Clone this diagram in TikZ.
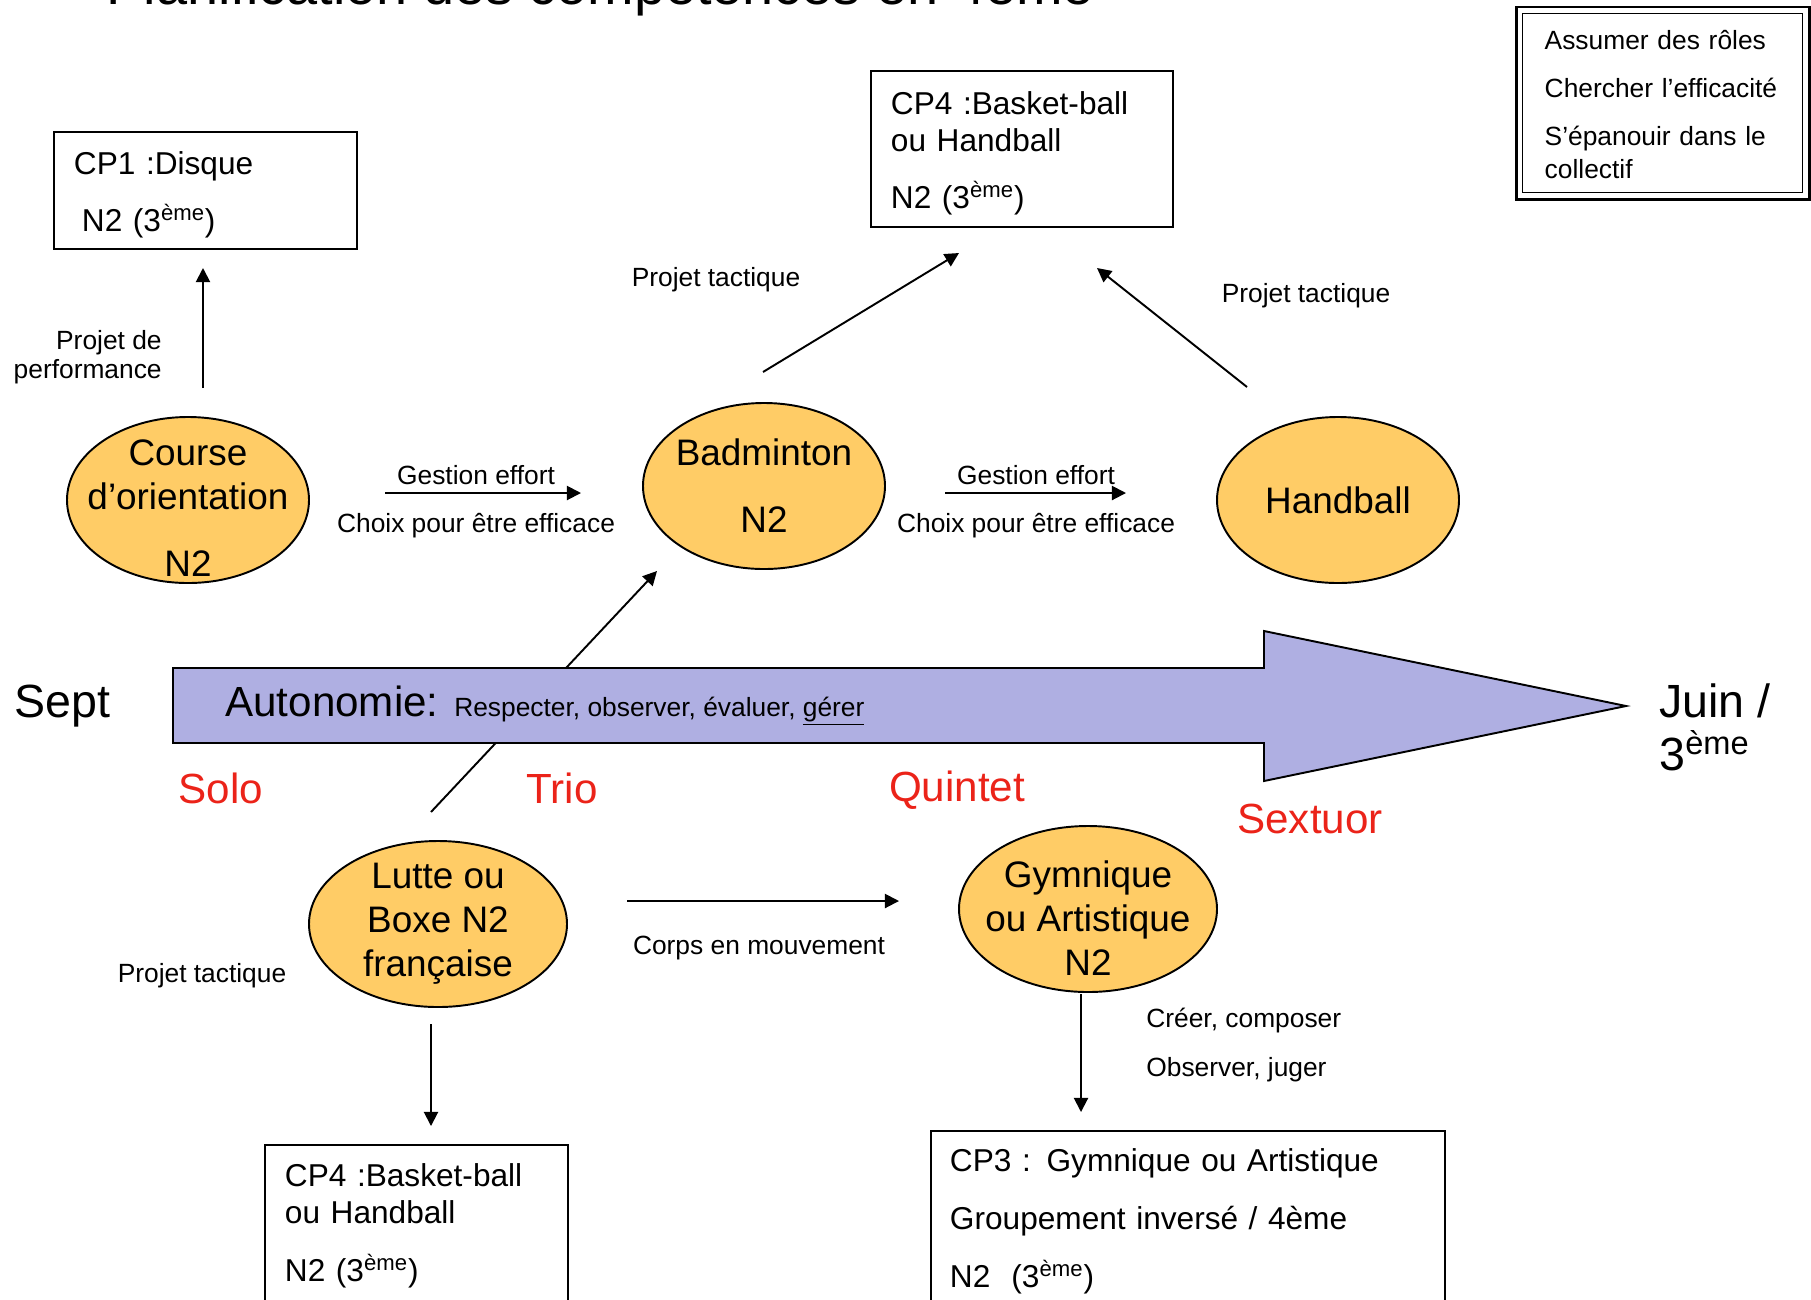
\documentclass[tikz,border=0pt]{standalone}
\usepackage{fontspec}
\setmainfont{Liberation Sans}
\usetikzlibrary{shapes.geometric, arrows.meta}

\newlength{\pix}
\setlength{\pix}{0.02cm}

\definecolor{sportfill}{RGB}{255,204,102}
\definecolor{arrowfill}{RGB}{175,175,226}
\definecolor{groupred}{RGB}{235,35,25}

\tikzset{
	sport/.style={ellipse, draw, line width=1.1pt, fill=sportfill, align=center,
		minimum width=242\pix, minimum height=166\pix, inner xsep=-30\pix, inner ysep=-20\pix,
		font=\fontsize{21}{25}\selectfont},
	cpbox/.style={draw, line width=1.1pt, anchor=north west, align=left, inner ysep=0pt,
		font=\fontsize{18}{21}\selectfont},
	note/.style={font=\fontsize{15}{18}\selectfont, inner sep=0pt},
	group/.style={text=groupred, font=\fontsize{24}{28}\selectfont, inner sep=0pt},
	arr/.style={line width=1.1pt, -{Triangle[length=8pt, width=8pt]}}
}

\begin{document}
\begin{tikzpicture}[x=0.02cm, y=-0.02cm]
	\useasboundingbox (0,0) rectangle (1811,1299);
	
	%title, cut by the page
	\node[anchor=base west, inner sep=0pt, font=\fontsize{31.8}{36}\selectfont] (title) at (106,4) {Planification des compétences en 4ème};
	
	%activities
	\node[sport, text height=152\pix, text depth=0pt] (course) at (188,500) {Course\\d’orientation\\[23\pix]N2};
	\node[sport] (bad) at (764,486) {Badminton\\[23\pix]N2};
	\node[sport] (hand) at (1338,500) {Handball};
	\node[sport, minimum width=258\pix] (lutte) at (438,924) {Lutte ou\\Boxe N2\\française};
	\node[sport, minimum width=258\pix, text height=133\pix, text depth=0pt] (gym) at (1088,909) {Gymnique\\ou Artistique\\N2};
	
	%competences
	\node[cpbox, inner xsep=20\pix, text width=263\pix, text height=43\pix, text depth=74\pix] (cp1) at (53,131) {CP1 :Disque\\[20\pix]\hspace*{8\pix}N2 (3\textsuperscript{ème})};
	\node[cpbox, inner xsep=20\pix, text width=262\pix, text height=44\pix, text depth=112\pix] (cp4a) at (870,70) {CP4 :Basket-ball\\ou Handball\\[20\pix]N2 (3\textsuperscript{ème})};
	\node[cpbox, inner xsep=20\pix, text width=263\pix, text height=42\pix, text depth=144\pix] (cp4b) at (264,1144) {CP4 :Basket-ball\\ou Handball\\[21\pix]N2 (3\textsuperscript{ème})};
	\node[cpbox, inner xsep=19\pix, text width=476\pix, text height=41\pix, text depth=160\pix] (cp3) at (930,1130) {CP3 : Gymnique ou Artistique\\[21\pix]Groupement inversé / 4ème\\[21\pix]N2\ \ (3\textsuperscript{ème})};
	
	%legend
	\node[draw, line width=0.8pt, anchor=north west, align=left, inner xsep=22\pix, inner ysep=0pt, text width=236\pix, text height=36\pix, text depth=143\pix, font=\fontsize{15}{18.8}\selectfont] (legend) at (1522,13) {Assumer des rôles\\[15\pix]Chercher l’efficacité\\[15\pix]S’épanouir dans le\\collectif};
	\draw[line width=1.7pt] ([shift={(-6,6)}]legend.south west) rectangle ([shift={(6,-6)}]legend.north east);
	
	%arrow ends
	\coordinate (c1a) at (203,388);
	\coordinate (c1b) at (203,268);
	\coordinate (c2a) at (763,372);
	\coordinate (c2b) at (959,253);
	\coordinate (c3a) at (1247,387);
	\coordinate (c3b) at (1097,268);
	\coordinate (c4a) at (385,493);
	\coordinate (c4b) at (581,493);
	\coordinate (c5a) at (945,493);
	\coordinate (c5b) at (1126,493);
	\coordinate (c6a) at (431,812);
	\coordinate (c6b) at (657,571);
	\coordinate (c7a) at (431,1024);
	\coordinate (c7b) at (431,1126);
	\coordinate (c8a) at (627,901);
	\coordinate (c8b) at (899,901);
	\coordinate (c9a) at (1081,994);
	\coordinate (c9b) at (1081,1112);
	
	%behind the time line
	\draw[arr] (c6a) -- (c6b);
	
	%time line
	\filldraw[fill=arrowfill, line width=1.1pt] (173,668) -- (1264,668) -- (1264,631) -- (1626,706) -- (1264,781) -- (1264,743) -- (173,743) -- cycle;
	\node[anchor=base west, inner sep=0pt] (auto) at (225,716) {{\fontsize{24}{28}\selectfont Autonomie: }{\fontsize{15}{18}\selectfont Respecter, observer, évaluer, \underline{gérer}}};
	\node[anchor=base west, inner sep=0pt, font=\fontsize{26.5}{30}\selectfont] (sept) at (14,717) {Sept};
	\node[anchor=base west, inner sep=0pt, align=left, font=\fontsize{26.5}{30}\selectfont] (juin) at (1659,770) {Juin /\\3\textsuperscript{ème}};
	
	%groups
	\node[group] (solo) at (221,788) {Solo};
	\node[group] (trio) at (562,788) {Trio};
	\node[group] (quintet) at (957,790) {Quintet};
	\node[group] (sextuor) at (1310,819) {Sextuor};
	
	%labels
	\node[note, align=right, anchor=east, font=\fontsize{15}{16.5}\selectfont] (perf) at (162,357) {Projet de\\performance};
	\node[note] (tac1) at (716,280) {Projet tactique};
	\node[note] (tac2) at (1306,296) {Projet tactique};
	\node[note] (tac3) at (202,976) {Projet tactique};
	\node[note] (eff1) at (476,475) {Gestion effort};
	\node[note] (choix1) at (476,526) {Choix pour être efficace};
	\node[note] (eff2) at (1036,475) {Gestion effort};
	\node[note] (choix2) at (1036,526) {Choix pour être efficace};
	\node[note] (corps) at (759,948) {Corps en mouvement};
	\node[note, anchor=west] (creer) at (1146,1021) {Créer, composer};
	\node[note, anchor=west] (obs) at (1146,1070) {Observer, juger};
	
	\draw[arr] (c1a) -- (c1b);
	\draw[arr] (c2a) -- (c2b);
	\draw[arr] (c3a) -- (c3b);
	\draw[arr] (c4a) -- (c4b);
	\draw[arr] (c5a) -- (c5b);
	\draw[arr] (c7a) -- (c7b);
	\draw[arr] (c8a) -- (c8b);
	\draw[arr] (c9a) -- (c9b);
	
\end{tikzpicture}
\end{document}
